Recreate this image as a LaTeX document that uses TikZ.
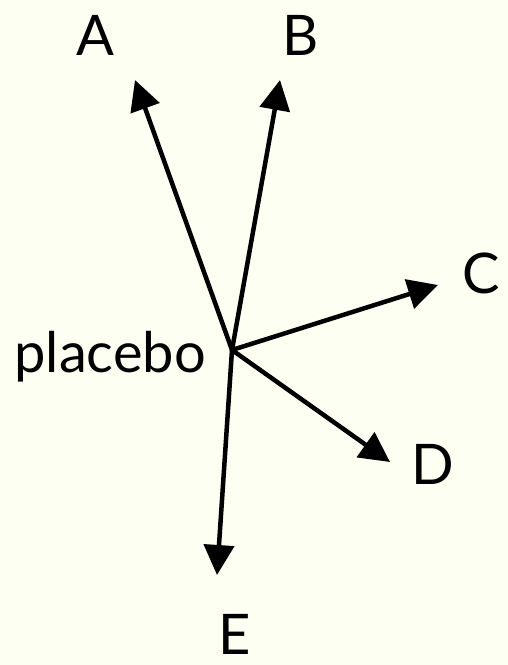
\documentclass[tikz,border=0pt]{standalone}
\usepackage{fontspec}
\setmainfont{Lato}
\usetikzlibrary{arrows.meta}
\definecolor{paper}{HTML}{FCFFF2}
\tikzset{
  arm/.style={line width=4.5pt, -{Triangle[length=30pt,width=30pt]}},
  lbl/.style={inner sep=0pt, font=\fontsize{56}{62}\selectfont}
}

\begin{document}
\begin{tikzpicture}[x=1pt,y=-1pt]
\fill[paper] (0,0) rectangle (508,665);
\useasboundingbox (0,0) rectangle (508,665);
\coordinate (hub) at (232,350);
\coordinate (ta) at (135,80);
\coordinate (tb) at (280,80);
\coordinate (tc) at (438,285);
\coordinate (td) at (390,462);
\coordinate (te) at (217,575);
\node[lbl, anchor=east] (placebo) at (206,357) {placebo};
\node[lbl] (la) at (95,35) {A};
\node[lbl] (lb) at (301,35) {B};
\node[lbl] (lc) at (481,273) {C};
\node[lbl] (ld) at (433,464) {D};
\node[lbl] (le) at (235,634) {E};
\foreach \t in {ta,tb,tc,td,te}
  \draw[arm] (hub) -- (\t);
\end{tikzpicture}
\end{document}
